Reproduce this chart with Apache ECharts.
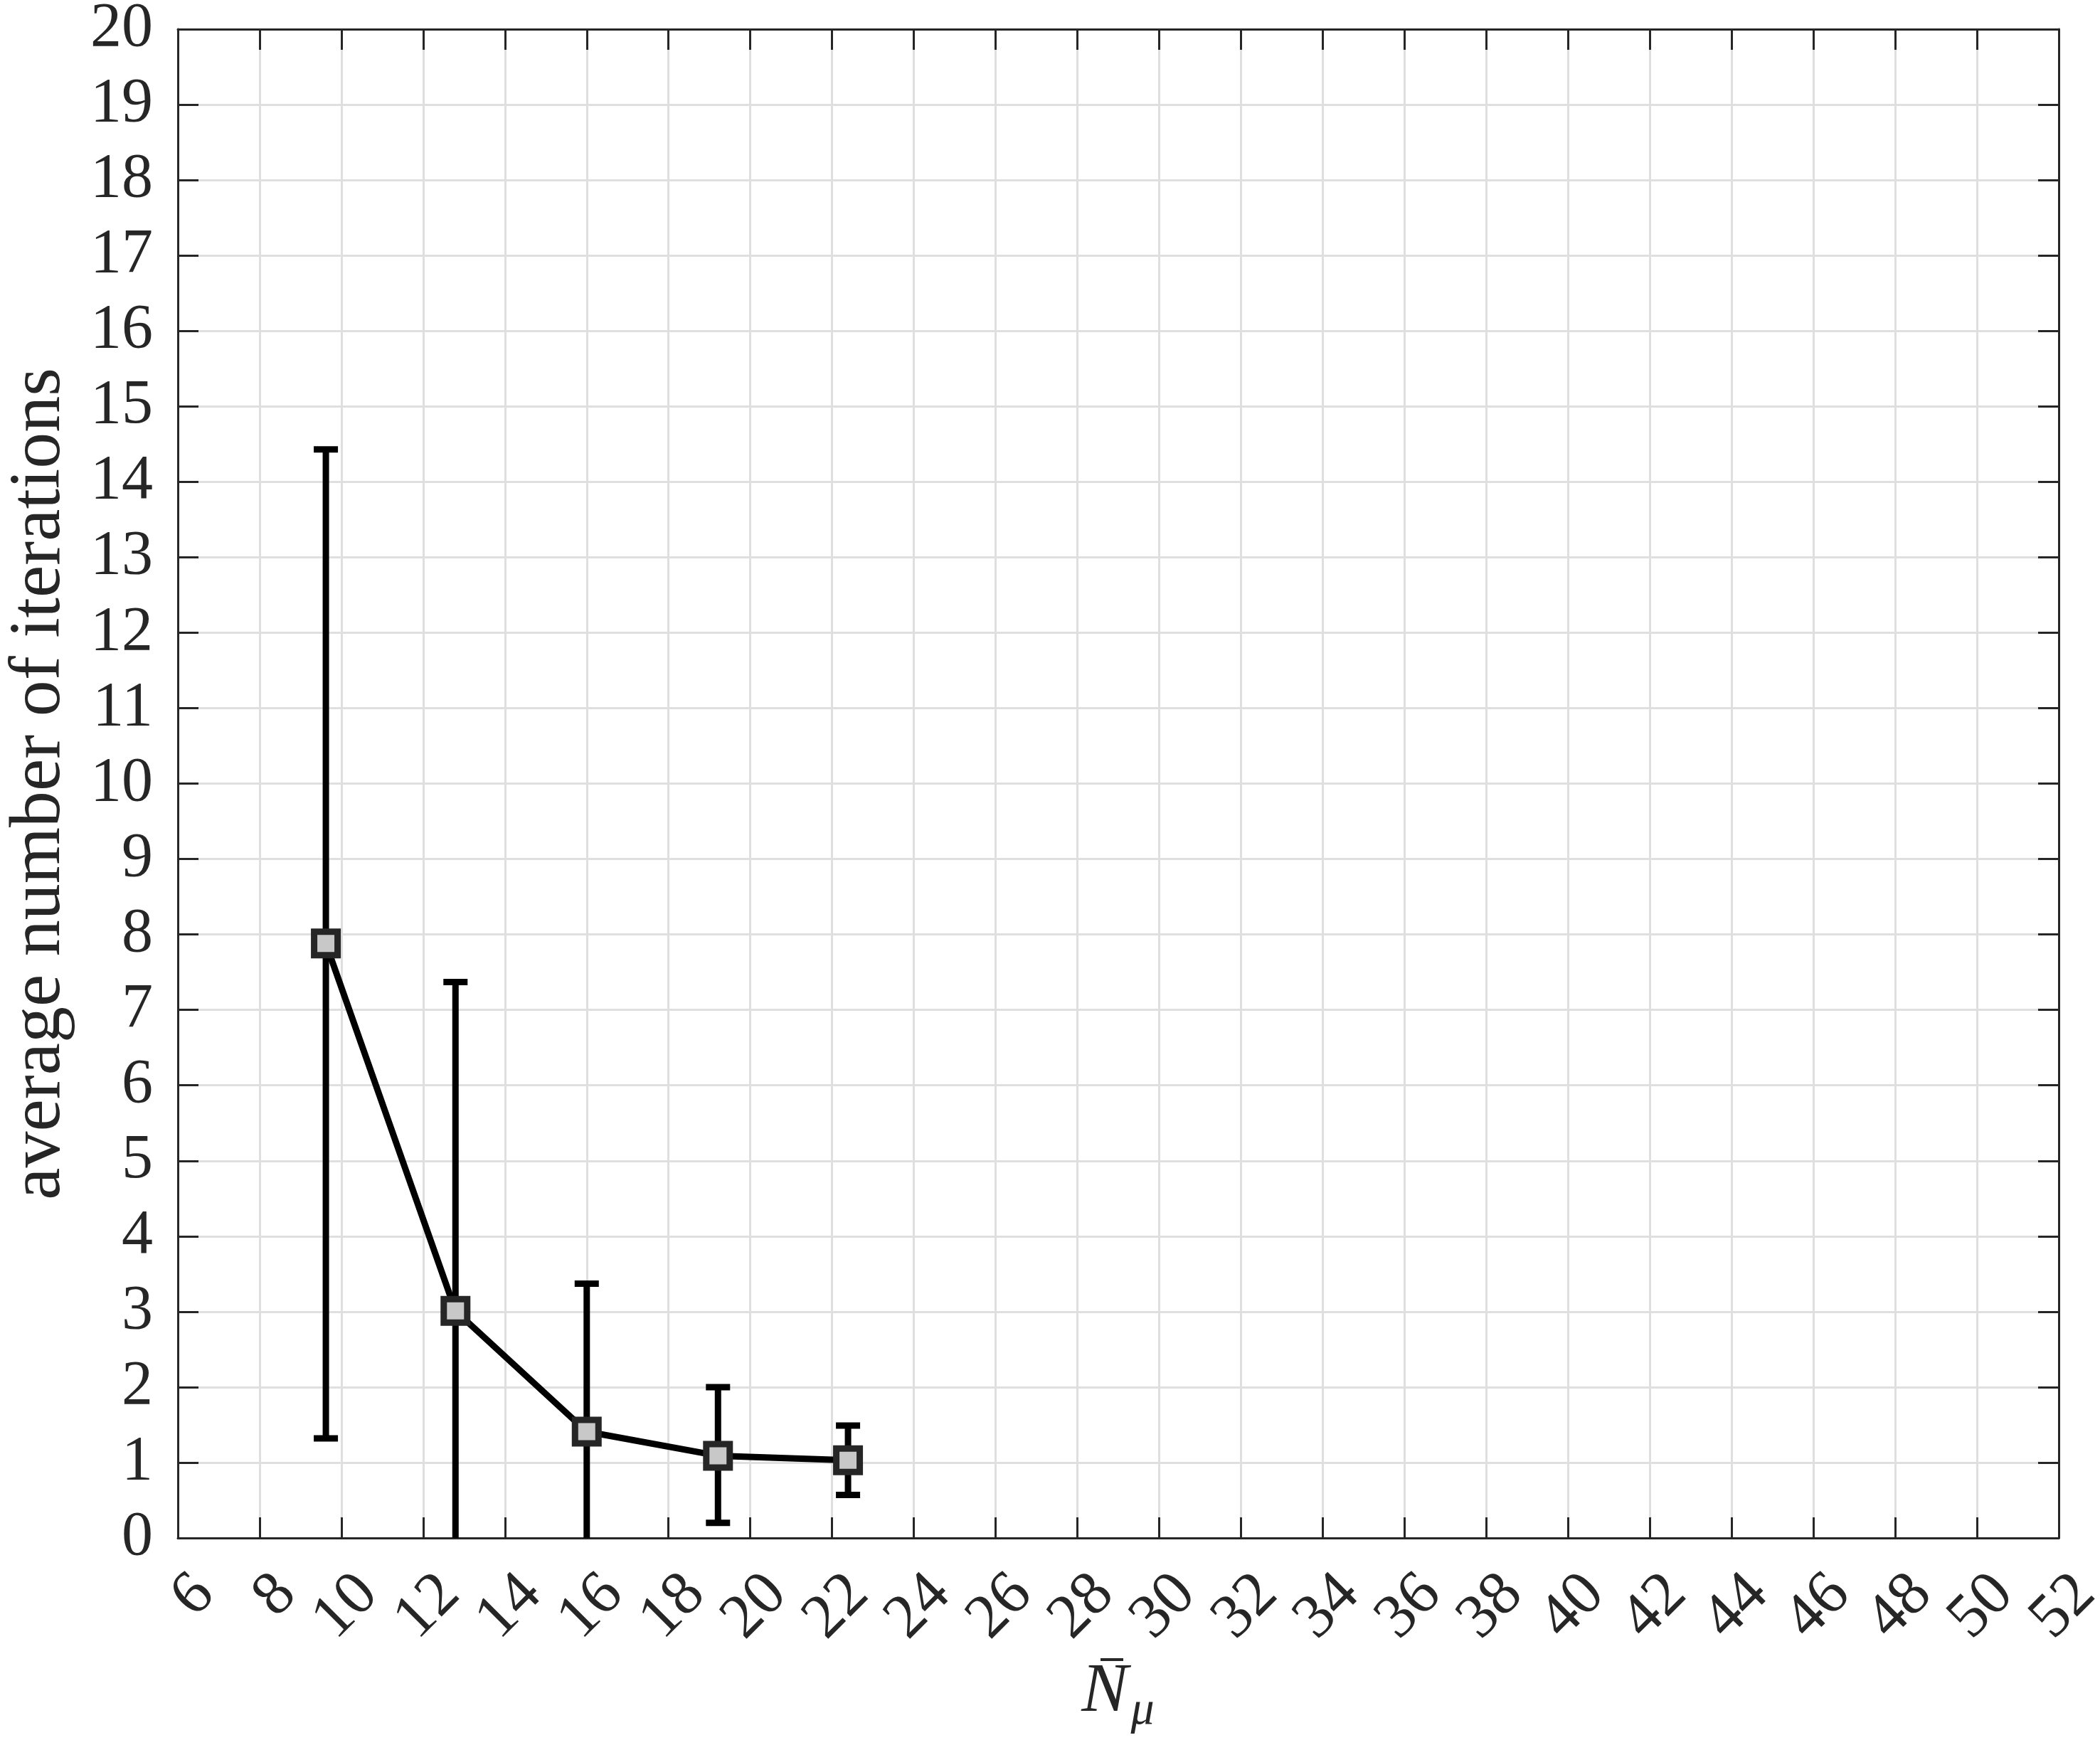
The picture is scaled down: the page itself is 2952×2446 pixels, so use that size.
<!DOCTYPE html>
<html>
<head>
<meta charset="utf-8">
<script src="https://cdn.jsdelivr.net/npm/echarts@6/dist/echarts.min.js"></script>
<style>
html,body{margin:0;padding:0;background:#fff;}
#chart{width:2952px;height:2446px;}
</style>
</head>
<body>
<div id="chart"></div>
<script>
// ---- data ----
const xValues = [9.62, 12.79, 16.0, 19.21, 22.39];
const yMean   = [7.88, 3.01, 1.41, 1.09, 1.03];
const yLower  = [1.32, -1.35, -0.55, 0.20, 0.57];
const yUpper  = [14.43, 7.37, 3.37, 2.00, 1.49];
const xTicks  = [6, 52, 2];   // min, max, interval
const yTicks  = [0, 20, 1];
const yTitle  = 'average number of iterations';
const xTitleMain = 'N';
const xTitleSub = '\u03bc';

const FONT = "'Liberation Serif', 'Times New Roman', serif";
const TXT = '#262626';

const lineData = xValues.map((x, i) => [x, yMean[i]]);
const errData = xValues.map((x, i) => [x, yLower[i], yUpper[i]]);

const chart = echarts.init(document.getElementById('chart'));

const axisLine = {show: true, onZero: false, lineStyle: {color: TXT, width: 3}};
const axisTick = {show: true, inside: true, length: 29, lineStyle: {color: TXT, width: 3}};
const xLabelStyle = {
  rotate: 45, align: 'right', verticalAlign: 'top', lineHeight: 107, margin: 28,
  hideOverlap: false, fontFamily: FONT, fontSize: 88, color: TXT
};

chart.setOption({
  backgroundColor: '#fff',
  animation: false,
  grid: {left: 250, top: 41, right: 58, bottom: 284, containLabel: false, outerBoundsMode: 'none'},
  xAxis: [{
    type: 'value', min: xTicks[0], max: xTicks[1], interval: xTicks[2],
    position: 'bottom',
    axisLine: axisLine, axisTick: axisTick,
    splitLine: {show: true, lineStyle: {color: '#dfdfdf', width: 3}},
    axisLabel: Object.assign({showMinLabel: true, showMaxLabel: false}, xLabelStyle)
  }, {
    type: 'value', min: xTicks[0], max: xTicks[1], interval: xTicks[2],
    position: 'top',
    axisLine: axisLine, axisTick: axisTick,
    splitLine: {show: false}, axisLabel: {show: false}
  }, {
    // overlay that carries only the last tick label (the main axis drops it)
    type: 'value', min: xTicks[0], max: xTicks[1], interval: xTicks[2],
    position: 'bottom',
    axisLine: {show: false}, axisTick: {show: false}, splitLine: {show: false},
    axisLabel: Object.assign({
      showMinLabel: false, showMaxLabel: true,
      formatter: v => (v === xTicks[1] ? String(v) : '')
    }, xLabelStyle)
  }],
  yAxis: [{
    type: 'value', min: yTicks[0], max: yTicks[1], interval: yTicks[2],
    position: 'left',
    axisLine: axisLine, axisTick: axisTick,
    splitLine: {show: true, lineStyle: {color: '#dfdfdf', width: 3}},
    axisLabel: {margin: 35, showMinLabel: true, showMaxLabel: true, fontFamily: FONT, fontSize: 88, color: TXT}
  }, {
    type: 'value', min: yTicks[0], max: yTicks[1], interval: yTicks[2],
    position: 'right',
    axisLine: axisLine, axisTick: axisTick,
    splitLine: {show: false}, axisLabel: {show: false}
  }],
  graphic: [
    {type: 'text', x: 56, y: 1102, rotation: Math.PI / 2,
     style: {text: yTitle, fontFamily: FONT, fontSize: 102, fill: TXT, align: 'center', verticalAlign: 'middle'}},
    {type: 'text', x: 1553, y: 2379,
     style: {text: xTitleMain, fontFamily: FONT, fontStyle: 'italic', fontSize: 98, fill: TXT, align: 'center', verticalAlign: 'middle'}},
    {type: 'rect', shape: {x: 1547, y: 2331, width: 32, height: 4}, style: {fill: TXT}},
    {type: 'text', x: 1606, y: 2406,
     style: {text: xTitleSub, fontFamily: FONT, fontStyle: 'italic', fontSize: 66, fill: TXT, align: 'center', verticalAlign: 'middle'}}
  ],
  series: [{
    type: 'custom',
    clip: true,
    data: errData,
    encode: {x: 0, y: [1, 2]},
    z: 2,
    renderItem: function (params, api) {
      const x = api.value(0);
      const lo = api.coord([x, api.value(1)]);
      const hi = api.coord([x, api.value(2)]);
      const half = 17;
      const st = {stroke: '#000', lineWidth: 9};
      return {
        type: 'group',
        children: [
          {type: 'line', shape: {x1: lo[0], y1: lo[1], x2: hi[0], y2: hi[1]}, style: st},
          {type: 'line', shape: {x1: hi[0] - half, y1: hi[1], x2: hi[0] + half, y2: hi[1]}, style: st},
          {type: 'line', shape: {x1: lo[0] - half, y1: lo[1], x2: lo[0] + half, y2: lo[1]}, style: st}
        ]
      };
    }
  }, {
    type: 'line',
    data: lineData,
    z: 3,
    lineStyle: {color: '#000', width: 9},
    symbol: 'rect', symbolSize: 33,
    itemStyle: {color: '#c8c8c8', borderColor: '#262626', borderWidth: 9},
    emphasis: {disabled: true}
  }]
});
</script>
</body>
</html>
